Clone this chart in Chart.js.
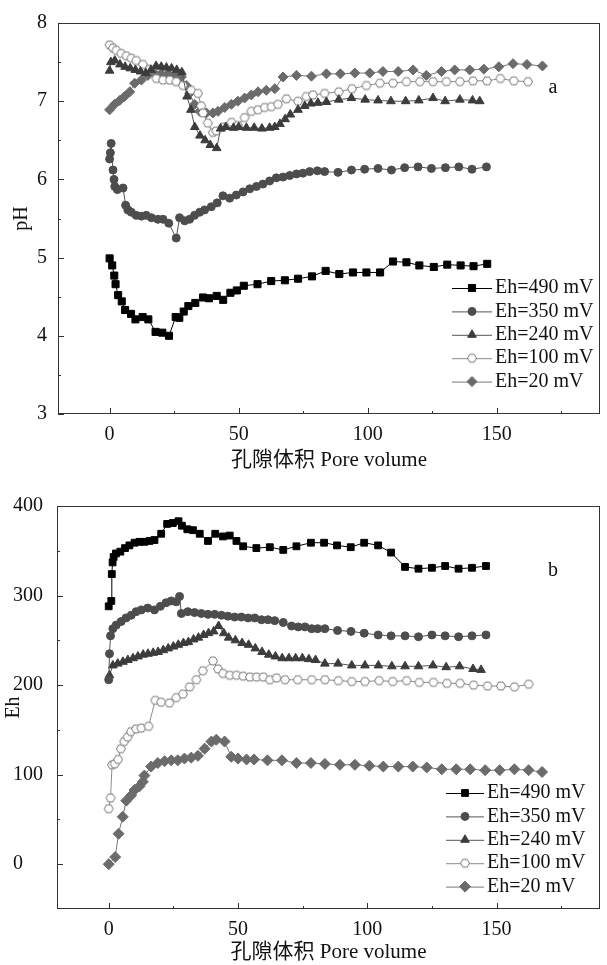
<!DOCTYPE html>
<html lang="zh">
<head>
<meta charset="UTF-8">
<title>pH and Eh vs pore volume</title>
<script src="https://cdn.jsdelivr.net/npm/chart.js"></script>
<style>
    body { margin: 0; background: #fff; }
    .panel { position: absolute; left: 0; width: 607px; }
    #phPanel { top: 0; height: 480px; }
    #ehPanel { top: 480px; height: 485px; }
</style>
</head>
<body>
<div class="panel" id="phPanel"><canvas id="phChart"></canvas></div>
<div class="panel" id="ehPanel"><canvas id="ehChart"></canvas></div>

<script>
// ---- series names and axis ticks ----
const seriesLabels = ['Eh=490 mV', 'Eh=350 mV', 'Eh=240 mV', 'Eh=100 mV', 'Eh=20 mV'];
const poreTicks = [0, 50, 100, 150];
const poreMinor = [25, 75, 125, 175];
const phTicks = [3, 4, 5, 6, 7, 8];
const phMinor = [3.5, 4.5, 5.5, 6.5, 7.5];
const ehTicks = [0, 100, 200, 300, 400];
const ehMinor = [50, 150, 250, 350];

// ---- panel a: pH ----
const phX490 = [0, 1, 1.8, 2.3, 3.3, 4.7, 6, 8.3, 10, 12.8, 15, 17.8, 20.4, 23, 25.6, 27, 28.7, 30.5, 33.2, 36.2, 38.5, 41.5, 44, 46.8, 49.3, 52, 57.3, 62.6, 67.9, 73, 78.4, 83.7, 89, 94.3, 99.5, 104.8, 109.8, 115, 120, 125.6, 130.8, 136, 141, 146.3];
const phY490 = [4.99, 4.9, 4.77, 4.66, 4.52, 4.44, 4.33, 4.28, 4.21, 4.24, 4.21, 4.05, 4.04, 4.0, 4.24, 4.23, 4.31, 4.38, 4.42, 4.49, 4.48, 4.51, 4.46, 4.55, 4.58, 4.64, 4.66, 4.7, 4.71, 4.73, 4.76, 4.83, 4.79, 4.81, 4.81, 4.81, 4.95, 4.94, 4.9, 4.88, 4.91, 4.9, 4.89, 4.92];

const phX350 = [0, 0.3, 0.6, 1.3, 1.7, 2, 3, 5.2, 6.2, 7.1, 8.4, 10.3, 12.3, 14.2, 16.2, 18.7, 20.7, 22.9, 25.8, 27.1, 29.1, 31, 32.9, 34.9, 36.8, 39.4, 41.7, 43.9, 46.5, 49.1, 51.7, 54.3, 56.9, 59.4, 62, 64.6, 67.2, 69.8, 72.4, 74.9, 77.5, 80.5, 83.3, 88.5, 93.7, 98.8, 104, 109.2, 114.3, 119.5, 124.7, 130.1, 135.3, 140.4, 146];
const phY350 = [6.26, 6.34, 6.46, 6.12, 6.0, 5.91, 5.87, 5.89, 5.67, 5.61, 5.58, 5.54, 5.53, 5.54, 5.51, 5.49, 5.49, 5.44, 5.25, 5.51, 5.47, 5.49, 5.54, 5.58, 5.61, 5.65, 5.70, 5.79, 5.76, 5.80, 5.84, 5.88, 5.91, 5.94, 5.98, 6.02, 6.03, 6.05, 6.07, 6.08, 6.10, 6.11, 6.10, 6.09, 6.12, 6.13, 6.14, 6.12, 6.15, 6.16, 6.14, 6.15, 6.16, 6.13, 6.16];

const phX240 = [0, 0.5, 2, 4, 6, 8, 10, 12, 14, 16, 18, 20, 22, 24, 26, 28, 30, 31.5, 33, 35, 37, 39, 41.5, 43, 45, 48, 50, 53, 56, 59, 62, 64, 66, 68, 70, 73, 75.6, 78, 80.7, 84, 88.8, 93.7, 99, 104, 109, 114.7, 119.8, 125.3, 130, 135.7, 140.6, 143.4];
const phY240 = [7.39, 7.5, 7.52, 7.47, 7.44, 7.42, 7.40, 7.38, 7.36, 7.40, 7.45, 7.44, 7.43, 7.42, 7.40, 7.37, 7.06, 6.89, 6.67, 6.56, 6.50, 6.44, 6.40, 6.65, 6.67, 6.66, 6.67, 6.66, 6.66, 6.65, 6.66, 6.67, 6.71, 6.77, 6.83, 6.89, 6.94, 6.97, 6.98, 6.99, 7.02, 7.04, 7.02, 7.01, 7.0, 7.0, 7.01, 7.04, 7.0, 7.02, 7.01, 7.0];

const phX100 = [0, 1.3, 2.6, 4.5, 6.5, 8.4, 10.3, 12.9, 15.5, 18.1, 20.7, 23.3, 25.8, 28.4, 31.6, 34.2, 35.5, 36.2, 38, 40, 41.3, 43.9, 47.2, 49.7, 52.3, 54.9, 57.5, 60.1, 62.7, 65.2, 68.5, 73, 76.2, 78.8, 83.3, 88.8, 93.9, 99.5, 104.7, 109.8, 115, 120.2, 125.3, 130.5, 135.7, 140.8, 146.2, 151.4, 156.6, 162.1];
const phY100 = [7.72, 7.68, 7.65, 7.61, 7.58, 7.55, 7.52, 7.47, 7.41, 7.29, 7.27, 7.27, 7.25, 7.2, 7.14, 7.10, 6.94, 6.85, 6.72, 6.60, 6.62, 6.67, 6.73, 6.69, 6.79, 6.87, 6.89, 6.92, 6.93, 6.96, 7.03, 7.0, 7.06, 7.08, 7.10, 7.12, 7.16, 7.20, 7.23, 7.23, 7.25, 7.25, 7.25, 7.25, 7.25, 7.26, 7.26, 7.29, 7.26, 7.25];

const phX20 = [0, 1.9, 3.9, 5.8, 7.8, 9.7, 12.3, 14.8, 17.4, 20, 22.6, 25.2, 27.8, 29.7, 31, 32.9, 34.9, 37.5, 40, 42, 44.6, 47.2, 49.7, 52.3, 54.9, 57.5, 60.7, 64, 67.2, 72.4, 78.2, 84, 89.4, 95, 100.8, 105.9, 111.8, 117.6, 122.7, 128.6, 133.7, 139.5, 145, 150.8, 156.3, 161.7, 167.7];
const phY20 = [6.89, 6.96, 7.01, 7.06, 7.12, 7.23, 7.27, 7.33, 7.36, 7.35, 7.35, 7.33, 7.31, 7.20, 7.10, 6.96, 6.87, 6.85, 6.85, 6.87, 6.92, 6.96, 7.0, 7.04, 7.08, 7.12, 7.14, 7.16, 7.31, 7.33, 7.32, 7.35, 7.35, 7.36, 7.36, 7.38, 7.38, 7.40, 7.33, 7.38, 7.40, 7.40, 7.41, 7.44, 7.48, 7.47, 7.45];

// ---- panel b: Eh ----
const ehX490 = [0, 1, 1.2, 1.5, 1.9, 2.8, 4.5, 6.3, 8, 10, 11.9, 13.8, 15.8, 17.7, 20.3, 22.6, 24.8, 27, 28.3, 30.4, 32.6, 35.2, 38.4, 41.2, 44.2, 46.8, 49.4, 52, 57.1, 62.3, 67.5, 72.6, 78.2, 83.3, 88.3, 93.6, 98.8, 104.2, 109.2, 114.6, 119.8, 125, 130.1, 135.3, 140.5, 145.9];
const ehY490 = [288, 294, 324, 337, 343, 347, 349, 353, 356, 359, 360, 360, 361, 362, 369, 380, 381, 383, 378, 374, 373, 369, 361, 369, 366, 367, 361, 355, 353, 354, 351, 355, 359, 359, 356, 354, 359, 356, 348, 332, 330, 331, 333, 330, 331, 333];

const ehX350 = [0, 0.3, 0.7, 1.6, 2.9, 4.8, 6.7, 8.7, 10.6, 12.6, 15.1, 17.7, 20, 22.2, 24.2, 26.1, 27.4, 28.1, 30.6, 33.2, 35.8, 38.4, 41, 43.6, 46.1, 48.7, 51.3, 53.9, 56.5, 59.1, 61.6, 64.2, 67.5, 70.7, 73.3, 75.9, 78.5, 80.8, 83.6, 88.5, 93.7, 98.8, 104.2, 109.2, 114.6, 119.8, 125, 130.1, 135.3, 140.5, 145.9];
const ehY350 = [206, 235, 255, 263, 267, 271, 275, 278, 282, 284, 286, 284, 288, 292, 294, 293, 299, 280, 282, 281, 280, 279, 279, 278, 277, 276, 276, 275, 275, 273, 273, 272, 270, 266, 265, 265, 263, 263, 263, 261, 260, 258, 256, 255, 255, 254, 256, 255, 254, 255, 256];

const ehX240 = [0.3, 1.6, 3.5, 5.5, 7.4, 9.4, 11.3, 13.3, 15.2, 17.2, 19.1, 21.1, 23, 25, 26.9, 28.9, 30.8, 32.8, 34.7, 36.7, 38.6, 40.6, 42.5, 44.5, 46.4, 49, 51.6, 54.1, 56.7, 59.3, 61.9, 64.5, 67.1, 69.7, 72.3, 74.9, 77.4, 80, 83.6, 88.7, 94, 99.1, 104.3, 109.5, 114.6, 119.8, 125.4, 130.5, 135.7, 140.9, 144];
const ehY240 = [211, 222, 224, 226, 228, 230, 232, 234, 235, 236, 237, 239, 241, 243, 245, 247, 248, 251, 253, 256, 258, 260, 266, 258, 253, 250, 247, 245, 241, 237, 234, 232, 230, 230, 230, 230, 229, 228, 224, 224, 222, 222, 222, 221, 221, 221, 222, 220, 221, 218, 217];

const ehX100 = [0, 0.7, 1.3, 2.3, 3.6, 4.7, 6, 7.3, 8.6, 10.6, 12.6, 15.4, 18, 20.3, 23.5, 26.1, 28.7, 31.3, 33.9, 36.4, 40.3, 42.3, 44.2, 46.8, 49.4, 52, 54.6, 57.2, 59.8, 62.3, 64.9, 68.2, 73.1, 78.5, 83.6, 88.8, 94, 99.1, 104.6, 109.8, 115.2, 120.1, 125.6, 130.8, 135.9, 141.1, 146.5, 151.7, 156.9, 162.4];
const ehY100 = [62, 74, 111, 112, 117, 129, 137, 142, 148, 151, 152, 154, 183, 181, 180, 186, 190, 198, 206, 216, 227, 218, 213, 211, 211, 210, 209, 209, 209, 206, 208, 206, 206, 206, 206, 205, 204, 204, 205, 204, 205, 203, 203, 202, 202, 200, 199, 199, 198, 201];

const ehX20 = [0, 2.5, 3.8, 5.4, 6.8, 8.7, 10, 11.9, 13.2, 13.8, 16.4, 19, 21.6, 24.2, 26.7, 29.3, 31.9, 34.5, 37.1, 39.7, 41.6, 44.8, 47.4, 50, 53.3, 56.2, 61.4, 67, 72.6, 78.2, 83.6, 89.4, 95.2, 100.8, 106.2, 112, 117.6, 123, 128.8, 134.4, 139.8, 145.6, 151.2, 156.9, 162.4, 167.6];
const ehY20 = [0, 8, 34, 53, 71, 77, 83, 87, 92, 99, 109, 113, 115, 116, 116, 118, 119, 121, 129, 137, 139, 137, 120, 118, 117, 117, 116, 116, 113, 113, 112, 111, 111, 110, 109, 109, 109, 108, 106, 106, 106, 105, 105, 106, 105, 103];

const serif = '"Liberation Serif", "Times New Roman", serif';
const mixedFont = '"Liberation Serif", "Noto Sans CJK SC", serif';
Chart.defaults.font.family = serif;
Chart.defaults.color = '#111';

// open hexagon marker (Chart.js has no hexagon point style)
function hexagonMarker(r) {
    const c = document.createElement('canvas');
    const s = Math.ceil(r) * 2 + 4;
    c.width = s; c.height = s;
    const g = c.getContext('2d');
    g.beginPath();
    for (let i = 0; i < 6; i++) {
        const a = i * Math.PI / 3;
        g.lineTo(s / 2 + Math.cos(a) * r, s / 2 + Math.sin(a) * r);
    }
    g.closePath();
    g.fillStyle = '#fff';
    g.fill();
    g.strokeStyle = '#777';
    g.lineWidth = 1;
    g.stroke();
    return c;
}

const looks = [
    { line: '#000', fill: '#000', style: 'rect' },
    { line: '#555', fill: '#4d4d4d', style: 'circle' },
    { line: '#555', fill: '#3c3c3c', style: 'triangle' },
    { line: '#8c8c8c', fill: '#fff', style: 'hex' },
    { line: '#777', fill: '#6b6b6b', style: 'rectRot' }
];

function pairs(xs, ys) {
    return xs.map((x, i) => ({ x: x, y: ys[i] }));
}

function makeDatasets(xsList, ysList, radii) {
    return looks.map((lk, i) => ({
        label: seriesLabels[i],
        data: pairs(xsList[i], ysList[i]),
        borderColor: lk.line,
        borderWidth: 1,
        pointStyle: lk.style === 'hex' ? hexagonMarker(radii[i]) : lk.style,
        pointRadius: radii[i],
        pointBackgroundColor: lk.fill,
        pointBorderColor: lk.fill,
        pointBorderWidth: 1,
        tension: 0,
        fill: false
    }));
}

function drawMarker(ctx, ds, x, y) {
    const r = ds.pointRadius;
    const st = ds.pointStyle;
    if (typeof st !== 'string') {
        ctx.drawImage(st, x - st.width / 2, y - st.height / 2);
        return;
    }
    ctx.fillStyle = ds.pointBackgroundColor;
    ctx.strokeStyle = ds.pointBorderColor;
    ctx.beginPath();
    if (st === 'rect') {
        const s = r * Math.SQRT1_2;
        ctx.rect(x - s, y - s, 2 * s, 2 * s);
    } else if (st === 'circle') {
        ctx.arc(x, y, r, 0, Math.PI * 2);
    } else if (st === 'triangle') {
        for (let k = 0; k < 3; k++) {
            const a = k * 2 * Math.PI / 3;
            ctx.lineTo(x + Math.sin(a) * r, y - Math.cos(a) * r);
        }
    } else {
        ctx.moveTo(x, y - r); ctx.lineTo(x + r, y); ctx.lineTo(x, y + r); ctx.lineTo(x - r, y);
    }
    ctx.closePath();
    ctx.fill();
    ctx.stroke();
}

// frame, inward ticks, y title, panel letter and the in-plot legend
function decorations(o) {
    return {
        id: 'decor',
        afterDraw(chart) {
            const { ctx, chartArea: a } = chart;
            const xs = chart.scales.x, ys = chart.scales.y;
            ctx.save();
            ctx.strokeStyle = '#333';
            ctx.lineWidth = 1;
            ctx.beginPath();
            o.xMajor.forEach(v => { const p = Math.round(xs.getPixelForValue(v)) + 0.5; ctx.moveTo(p, a.bottom); ctx.lineTo(p, a.bottom - 6); });
            o.xMinor.forEach(v => { const p = Math.round(xs.getPixelForValue(v)) + 0.5; ctx.moveTo(p, a.bottom); ctx.lineTo(p, a.bottom - 3); });
            o.yMajor.forEach(v => { const p = Math.round(ys.getPixelForValue(v)) + 0.5; ctx.moveTo(a.left, p); ctx.lineTo(a.left + 6, p); });
            o.yMinor.forEach(v => { const p = Math.round(ys.getPixelForValue(v)) + 0.5; ctx.moveTo(a.left, p); ctx.lineTo(a.left + 3, p); });
            ctx.stroke();
            ctx.strokeRect(Math.round(a.left) + 0.5, Math.round(a.top) + 0.5, Math.round(a.width) - 1, Math.round(a.height) - 1);

            ctx.fillStyle = '#111';
            ctx.font = '20px ' + serif;
            ctx.textBaseline = 'middle';
            ctx.textAlign = 'center';
            ctx.save();
            ctx.translate(o.titleX, (a.top + a.bottom) / 2);
            ctx.rotate(-Math.PI / 2);
            ctx.fillText(o.yTitle, 0, 0);
            ctx.restore();
            ctx.fillText(o.letter, o.letterX, o.letterY);

            ctx.font = '20px ' + serif;
            ctx.textAlign = 'left';
            chart.data.datasets.forEach((ds, i) => {
                const y = o.legY + i * o.legStep;
                ctx.strokeStyle = ds.borderColor;
                ctx.beginPath();
                ctx.moveTo(o.legX0, y + 0.5);
                ctx.lineTo(o.legX1, y + 0.5);
                ctx.stroke();
                drawMarker(ctx, ds, (o.legX0 + o.legX1) / 2, y);
                ctx.fillStyle = '#111';
                ctx.fillText(ds.label, o.legTextX, y);
            });
            ctx.restore();
        }
    };
}

function poreAxis(height, titlePad) {
    return {
        type: 'linear', min: -20, max: 190,
        grid: { display: false, drawTicks: false },
        border: { display: false },
        afterBuildTicks: s => { s.ticks = poreTicks.map(v => ({ value: v })); },
        afterFit: s => { s.height = height; },
        ticks: { padding: 9, maxRotation: 0, font: { size: 20 } },
        title: { display: true, text: '孔隙体积 Pore volume', font: { family: mixedFont, size: 21 }, padding: { top: 0, bottom: titlePad } }
    };
}

new Chart(document.getElementById('phChart'), {
    type: 'line',
    data: { datasets: makeDatasets([phX490, phX350, phX240, phX100, phX20], [phY490, phY350, phY240, phY100, phY20], [5, 4, 5, 4.5, 5]) },
    options: {
        responsive: true, maintainAspectRatio: false, animation: false,
        layout: { padding: { top: 11, right: 7, left: 0, bottom: 0 } },
        plugins: { legend: { display: false }, tooltip: { enabled: false } },
        scales: {
            x: poreAxis(66, 7),
            y: {
                min: 3, max: 8,
                grid: { display: false, drawTicks: false },
                border: { display: false },
                afterBuildTicks: s => { s.ticks = phTicks.map(v => ({ value: v })); },
                afterFit: s => { s.width = 58; },
                ticks: { padding: 11, font: { size: 20 } }
            }
        }
    },
    plugins: [decorations({
        xMajor: poreTicks, xMinor: poreMinor, yMajor: phTicks, yMinor: phMinor,
        yTitle: 'pH', titleX: 22, letter: 'a', letterX: 553, letterY: 88,
        legX0: 452, legX1: 492, legTextX: 495, legY: 288, legStep: 23.4
    })]
});

new Chart(document.getElementById('ehChart'), {
    type: 'line',
    data: { datasets: makeDatasets([ehX490, ehX350, ehX240, ehX100, ehX20], [ehY490, ehY350, ehY240, ehY100, ehY20], [4.8, 4, 5, 4.5, 5.5]) },
    options: {
        responsive: true, maintainAspectRatio: false, animation: false,
        layout: { padding: { top: 26, right: 7, left: 13, bottom: 0 } },
        plugins: { legend: { display: false }, tooltip: { enabled: false } },
        scales: {
            x: poreAxis(56, 0),
            y: {
                min: -50, max: 400,
                grid: { display: false, drawTicks: false },
                border: { display: false },
                afterBuildTicks: s => { s.ticks = ehTicks.map(v => ({ value: v })); },
                afterFit: s => { s.width = 44; },
                ticks: { padding: 11, crossAlign: 'far', font: { size: 20 } }
            }
        }
    },
    plugins: [decorations({
        xMajor: poreTicks, xMinor: poreMinor, yMajor: ehTicks, yMinor: ehMinor,
        yTitle: 'Eh', titleX: 14, letter: 'b', letterX: 553, letterY: 91,
        legX0: 446, legX1: 484, legTextX: 487, legY: 313, legStep: 23.4
    })]
});
</script>
</body>
</html>
